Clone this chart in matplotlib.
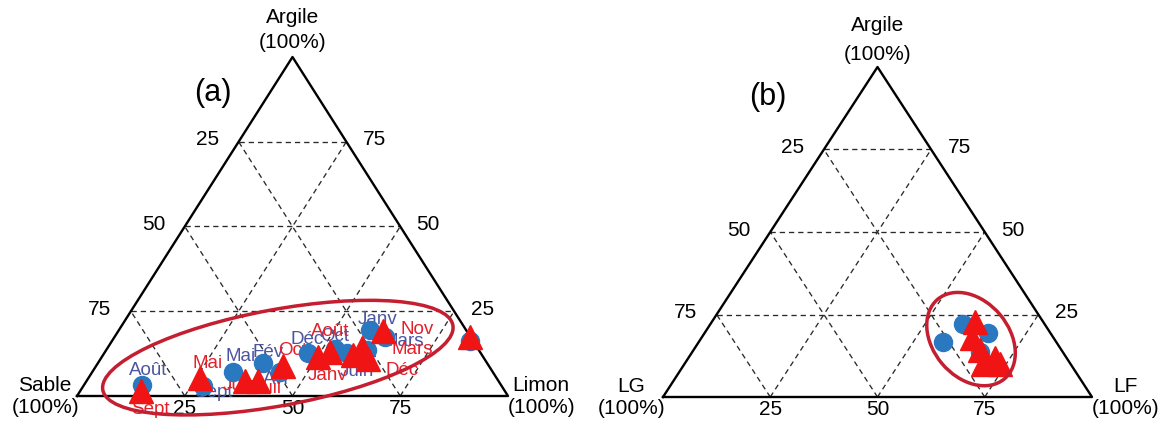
import matplotlib
matplotlib.use("Agg")
import matplotlib.pyplot as plt
from matplotlib.patches import Ellipse

plt.rcParams['font.family'] = ['Liberation Sans', 'DejaVu Sans']

mois = ["Janv", "Fév", "Mars", "Avr", "Mai", "Juin", "Juil", "Août", "Sept", "Oct", "Nov", "Déc"]
graduations = [25, 50, 75]

# (a) texture en % : Sable / Limon / Argile
bleu_sable = [22.2, 52.0, 25.9, 49.3, 60.2, 31.0, 0.7, 83.3, 69.3, 33.2, 19.8, 40.1]
bleu_limon = [58.3, 38.3, 60.5, 43.6, 32.7, 56.3, 83.1, 13.5, 27.8, 52.9, 62.8, 47.2]
bleu_argile = [19.5, 9.7, 13.6, 7.1, 7.1, 12.7, 16.2, 3.2, 2.9, 13.9, 17.4, 12.7]

rouge_sable = [38.3, 0.1, 26.8, 29.9, 68.8, 58.8, 55.8, 34.8, 84.4, 47.8, 19.4, 27.0]
rouge_limon = [50.2, 82.5, 59.0, 58.0, 25.9, 36.8, 39.8, 52.2, 14.1, 43.4, 61.4, 62.1]
rouge_argile = [11.5, 17.4, 14.2, 12.1, 5.3, 4.4, 4.4, 13.0, 1.5, 8.8, 19.2, 10.9]

# (b) texture en % : LG / LF / Argile
b_bleu_lg = [26.3, 19.0, 14.5, 19.3, 18.9]
b_bleu_lf = [57.0, 58.9, 66.1, 67.1, 71.4]
b_bleu_argile = [16.7, 22.1, 19.4, 13.6, 9.7]

b_rouge_lg = [15.9, 19.0, 19.0, 16.7, 20.4, 16.4]
b_rouge_lf = [61.4, 63.1, 66.8, 71.5, 69.6, 73.6]
b_rouge_argile = [22.7, 17.9, 14.2, 11.8, 10.0, 10.0]

# label offsets in pixels (x, y up)
bleu_decal = {"Janv": (7, 10), "Fév": (5, 11), "Mars": (36, 8), "Avr": (-3, -8), "Mai": (7, 15),
              "Juin": (10, -19), "Août": (6, 15), "Sept": (10, -6), "Oct": (0, 12), "Déc": (-1, 13)}
rouge_decal = {"Janv": (9, -18), "Mars": (50, -2), "Mai": (8, 15), "Juin": (-5, -4), "Juil": (10, -7),
               "Août": (0, 20), "Sept": (9, -19), "Oct": (10, 16), "Nov": (34, 1), "Déc": (34, -11)}

BLEU = "#2a78c0"
ROUGE = "#f01414"
TXT_BLEU = "#4c55a0"
TXT_ROUGE = "#e4202a"
ELL = "#c41e30"
FS = 15

fig = plt.figure(figsize=(11.73, 4.23), dpi=100)
FW, FH = 1173, 423


def make_ax(x0, ybase, w, h):
    ax = fig.add_axes([x0 / FW, (FH - ybase) / FH, w / FW, h / FH])
    hr = h / w
    ax.set_xlim(0, 1)
    ax.set_ylim(0, hr)
    ax.axis("off")
    return ax, hr, 1.0 / w


def tern(right, top, hr):
    # right = component at right vertex, top = argile (in %)
    x = [r / 100 + t / 200 for r, t in zip(right, top)]
    y = [t / 100 * hr for t in top]
    return x, y


def frame(ax, hr, px, left_name, right_name, top_off):
    ax.plot([0, 1, 0.5, 0], [0, 0, hr, 0], color="black", lw=1.7, zorder=1, clip_on=False)
    for g in graduations:
        v = g / 100
        kw = dict(color="#2a2a2a", lw=0.95, ls=(0, (4, 3)), zorder=0.5)
        ax.plot([v / 2, 1 - v / 2], [v * hr, v * hr], **kw)
        ax.plot([v, (1 + v) / 2], [0, (1 - v) * hr], **kw)
        ax.plot([v, v / 2], [0, v * hr], **kw)
        # graduations
        ax.text(v / 2 - 31 * px, v * hr + 2 * px, str(100 - g), ha="center", va="center", fontsize=FS)
        ax.text(1 - v / 2 + 28 * px, v * hr + 2 * px, str(g), ha="center", va="center", fontsize=FS)
        ax.text(v, -12 * px, str(g), ha="center", va="center", fontsize=FS)
    ax.text(-32 * px, 11 * px, left_name, ha="center", va="center", fontsize=FS)
    ax.text(-31 * px, -11 * px, "(100%)", ha="center", va="center", fontsize=FS)
    ax.text(1 + 33 * px, 11 * px, right_name, ha="center", va="center", fontsize=FS)
    ax.text(1 + 34 * px, -11 * px, "(100%)", ha="center", va="center", fontsize=FS)
    ax.text(0.5, hr + top_off[0] * px, "Argile", ha="center", va="center", fontsize=FS)
    ax.text(0.5, hr + top_off[1] * px, "(100%)", ha="center", va="center", fontsize=FS)


# ---- (a)
axa, hra, pxa = make_ax(77, 396, 431, 339)
frame(axa, hra, pxa, "Sable", "Limon", (39, 14))
xb, yb = tern(bleu_limon, bleu_argile, hra)
xr, yr = tern(rouge_limon, rouge_argile, hra)
axa.plot(xb, yb, "o", color=BLEU, ms=13, mec=BLEU, zorder=3, clip_on=False)
axa.plot(xr, yr, "^", color=ROUGE, ms=17, mec=ROUGE, zorder=4, clip_on=False)
for m, x, y in zip(mois, xb, yb):
    if m in bleu_decal:
        axa.annotate(m, (x, y), xytext=bleu_decal[m], textcoords="offset pixels", ha="center",
                     va="center", fontsize=13.5, color=TXT_BLEU, zorder=2.5, annotation_clip=False)
for m, x, y in zip(mois, xr, yr):
    if m in rouge_decal:
        axa.annotate(m, (x, y), xytext=rouge_decal[m], textcoords="offset pixels", ha="center",
                     va="center", fontsize=13.5, color=TXT_ROUGE, zorder=2.5, annotation_clip=False)
axa.add_patch(Ellipse((0.466, 0.089), 0.826, 0.223, angle=10.5, fill=False, ec=ELL, lw=2.5,
                      zorder=6, clip_on=False))
axa.text(136 * pxa, hra - 36 * pxa, "(a)", ha="center", va="center", fontsize=22)

# ---- (b)
axb, hrb, pxb = make_ax(663, 397, 429, 330)
frame(axb, hrb, pxb, "LG", "LF", (42, 12))
xb, yb = tern(b_bleu_lf, b_bleu_argile, hrb)
xr, yr = tern(b_rouge_lf, b_rouge_argile, hrb)
axb.plot(xb, yb, "o", color=BLEU, ms=13, mec=BLEU, zorder=3, clip_on=False)
axb.plot(xr, yr, "^", color=ROUGE, ms=17, mec=ROUGE, zorder=4, clip_on=False)
axb.add_patch(Ellipse((0.718, 0.135), 0.242, 0.177, angle=-50, fill=False, ec=ELL, lw=2.5,
                      zorder=6, clip_on=False))
axb.text(105 * pxb, hrb - 30 * pxb, "(b)", ha="center", va="center", fontsize=22)

fig.savefig("out.png", dpi=100, facecolor="white")
